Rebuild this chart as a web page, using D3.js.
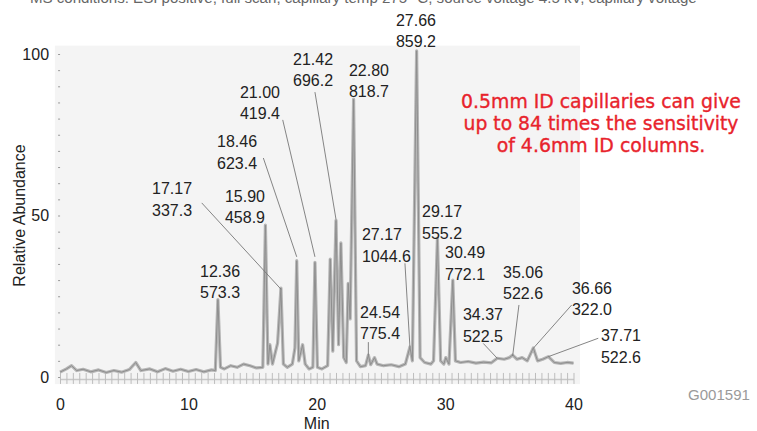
<!DOCTYPE html>
<html><head><meta charset="utf-8">
<script src="https://cdn.jsdelivr.net/npm/d3@7"></script>
<style>
html,body{margin:0;padding:0;background:#fff;}
svg{display:block;font-family:"Liberation Sans",Arial,sans-serif;}
</style></head><body>
<svg id="chart" width="757" height="431"></svg>
<script>
// ---- data ----
const retentionTimes = [0,0.5,0.9,1.3,1.8,2.4,3.0,3.6,4.2,4.8,5.4,5.9,6.3,7.0,7.6,8.2,8.8,9.4,10.0,10.6,11.2,11.8,12.1,12.3,12.5,12.8,13.3,13.8,14.3,14.8,15.3,15.8,16.0,16.2,16.35,16.55,16.95,17.21,17.4,17.7,18.1,18.3,18.44,18.6,18.9,19.1,19.4,19.7,19.86,20.05,20.4,20.85,21.05,21.25,21.5,21.7,21.88,22.1,22.3,22.45,22.6,22.87,23.1,23.4,23.8,24.02,24.2,24.5,24.7,25.2,25.8,26.4,26.9,27.26,27.45,27.78,28.05,28.4,28.9,29.1,29.4,29.65,29.9,30.05,30.3,30.6,30.8,31.2,31.8,32.4,33.0,33.6,34.06,34.6,35.0,35.26,35.6,36.0,36.4,36.87,37.2,37.6,38.04,38.5,39.0,39.5,40.0];
const abundances = [1.5,2.5,3.5,2.0,2.4,1.6,2.2,1.4,2.0,1.5,2.3,4.5,2.0,2.5,1.6,2.6,1.8,2.4,1.7,2.3,1.6,2.2,2.0,24,3.0,2.5,3.5,3.0,4.0,3.5,2.8,3.0,47,4,10,4,10.5,27.5,4,3,4,9,36,5,10,4,2.5,3,35.5,3,2.5,3.5,36.5,8,48.5,10,41.5,6,4.5,29,18,86,5,3.2,3.5,6.8,3.8,6,4,3.5,3.8,3.2,4,9.3,5,101,6,4.5,4,5,43,5,4,6,4,30,5,4.5,4.8,4.3,4.6,4.4,5.8,5.5,6,6.8,5.5,6,5,9,5,5.5,6.3,4.5,4.2,4.5,4.3];
const xTicks = [0,10,20,30,40];
const yTicks = [0,50,100];
const labelRT = ["27.66","21.42","22.80","21.00","18.46","17.17","15.90","12.36","27.17","24.54","29.17","30.49","35.06","34.37","36.66","37.71"];
const labelMZ = ["859.2","696.2","818.7","419.4","623.4","337.3","458.9","573.3","1044.6","775.4","555.2","772.1","522.6","522.5","322.0","522.6"];
const noteLines = ["0.5mm ID capillaries can give","up to 84 times the sensitivity","of 4.6mm ID columns."];
const headerText = "MS conditions: ESI positive, full scan, capillary temp 275 °C, source voltage 4.5 kV, capillary voltage";

// ---- layout (in data units: minutes, relative abundance) ----
const labelPos = [[26.17,108.7],[18.15,96.6],[22.51,93.2],[14.02,86.4],[12.23,71.2],[7.17,56.6],[12.85,54.2],[10.91,31.0],[23.52,42.4],[23.37,18.3],[28.20,49.5],[29.99,36.8],[34.51,30.7],[31.39,17.6],[39.88,25.7],[42.14,11.1]];
const leaders = [[11.04,53.9,17.21,27.2],[15.84,67.8,18.44,37.2],[17.35,79.6,19.86,37.2],[19.86,88.2,21.5,48.8],[26.87,35.2,27.26,9.3],[24.02,10.8,24.02,6.8],[32.97,10.4,34.06,5.8],[35.75,22.3,35.26,6.5],[39.86,22.3,36.87,8.9],[41.93,12.0,38.04,6.3]];

const svg = d3.select('#chart');
const x = d3.scaleLinear().domain([0,40]).range([60,573.5]);
const y = d3.scaleLinear().domain([0,100]).range([377,54]);

const defs = svg.append('defs');
defs.append('filter').attr('id','soft').attr('x','-20%').attr('y','-5%').attr('width','140%').attr('height','110%')
  .append('feGaussianBlur').attr('stdDeviation',0.6);

function fit(sel, w){
  const len = sel.node().getComputedTextLength();
  const fs = parseFloat(sel.attr('font-size'));
  sel.attr('font-size', fs*w/len);
}

// header (cut off at top, as in the source figure)
const hdr = svg.append('text').attr('x',30).attr('y',3).attr('font-size',16).attr('fill','#666').text(headerText);
fit(hdr, 667);

// panel
svg.append('rect').attr('x',x(-0.4)).attr('y',y(102.6)).attr('width',x(40.5)-x(-0.4)).attr('height',y(-2.2)-y(102.6)).attr('fill','#f4f4f4');

// x minor tick band
const xm = svg.append('g').attr('transform',`translate(0,${y(-0.6)})`)
  .call(d3.axisBottom(x).tickValues(d3.range(0,40.01,0.5)).tickSize(5).tickSizeOuter(0).tickFormat(''));
xm.select('.domain').attr('stroke','#c8c8c8').attr('stroke-width',1.5);
xm.selectAll('.tick line').attr('stroke','#bdbdbd').attr('y1',-6);

// y axis
svg.append('line').attr('x1',x(-0.15)).attr('x2',x(-0.15)).attr('y1',y(102.6)).attr('y2',y(-2)).attr('stroke','#a9a9a9').attr('stroke-width',3).attr('filter','url(#soft)');
const ym = svg.append('g').attr('transform',`translate(${x(-0.15)},0)`)
  .call(d3.axisLeft(y).tickValues(d3.range(0,101,5)).tickSize(3).tickSizeOuter(0).tickFormat(''));
ym.select('.domain').remove();
ym.selectAll('.tick line').attr('stroke','#999').attr('x2',2);

const yl = svg.append('g').attr('transform',`translate(${x(-0.15)},0)`)
  .call(d3.axisLeft(y).tickValues(yTicks).tickSize(0).tickPadding(9));
yl.select('.domain').remove();
yl.selectAll('text').attr('font-size',16).attr('font-family','"Liberation Sans",Arial,sans-serif').attr('fill','#222');

const xl = svg.append('g').attr('transform',`translate(0,${y(-2.2)})`)
  .call(d3.axisBottom(x).tickValues(xTicks).tickSize(0).tickPadding(14.6));
xl.select('.domain').remove();
xl.selectAll('text').attr('font-size',16).attr('font-family','"Liberation Sans",Arial,sans-serif').attr('fill','#222');

// trace
const pts = retentionTimes.map((t,i)=>[t,abundances[i]]);
const line = d3.line().x(d=>x(d[0])).y(d=>y(d[1]));
svg.append('path').datum(pts).attr('d',line).attr('fill','none').attr('stroke','#b6b6b6').attr('stroke-width',3.2).attr('stroke-linejoin','round').attr('filter','url(#soft)');
svg.append('path').datum(pts).attr('d',line).attr('fill','none').attr('stroke','#8e8e8e').attr('stroke-width',1).attr('stroke-linejoin','round');

// leaders
svg.append('g').selectAll('line').data(leaders).join('line')
  .attr('x1',d=>x(d[0])).attr('y1',d=>y(d[1])).attr('x2',d=>x(d[2])).attr('y2',d=>y(d[3]))
  .attr('stroke','#777').attr('stroke-width',0.9);

// peak labels
const lg = svg.append('g').attr('font-size',16).attr('fill','#222');
labelRT.forEach((rt,i)=>{
  const t = lg.append('text').attr('x',x(labelPos[i][0])).attr('y',y(labelPos[i][1]));
  t.append('tspan').attr('x',x(labelPos[i][0])).text(rt);
  t.append('tspan').attr('x',x(labelPos[i][0])).attr('dy',21.5).text(labelMZ[i]);
});

// axis titles
svg.append('text').attr('transform',`translate(25,${y(50)}) rotate(-90)`).attr('text-anchor','middle').attr('font-size',16).attr('fill','#222').text('Relative Abundance');
svg.append('text').attr('x',x(20)).attr('y',429).attr('text-anchor','middle').attr('font-size',16).attr('fill','#222').text('Min');
const gid = svg.append('text').attr('x',688).attr('y',400).attr('font-size',15).attr('fill','#9a9a9a').text('G001591');
fit(gid, 62);

// red note
const noteW = [280,275,209];
const noteY = [108,130,152];
noteLines.forEach((s,i)=>{
  const t = svg.append('text').attr('x',601).attr('y',noteY[i]).attr('text-anchor','middle')
    .attr('font-family','"DejaVu Sans",Verdana,sans-serif').attr('font-size',16).attr('fill','#e8232c')
    .attr('stroke','#e8232c').attr('stroke-width',0.35).text(s);
  fit(t, noteW[i]);
});
</script>
</body></html>
